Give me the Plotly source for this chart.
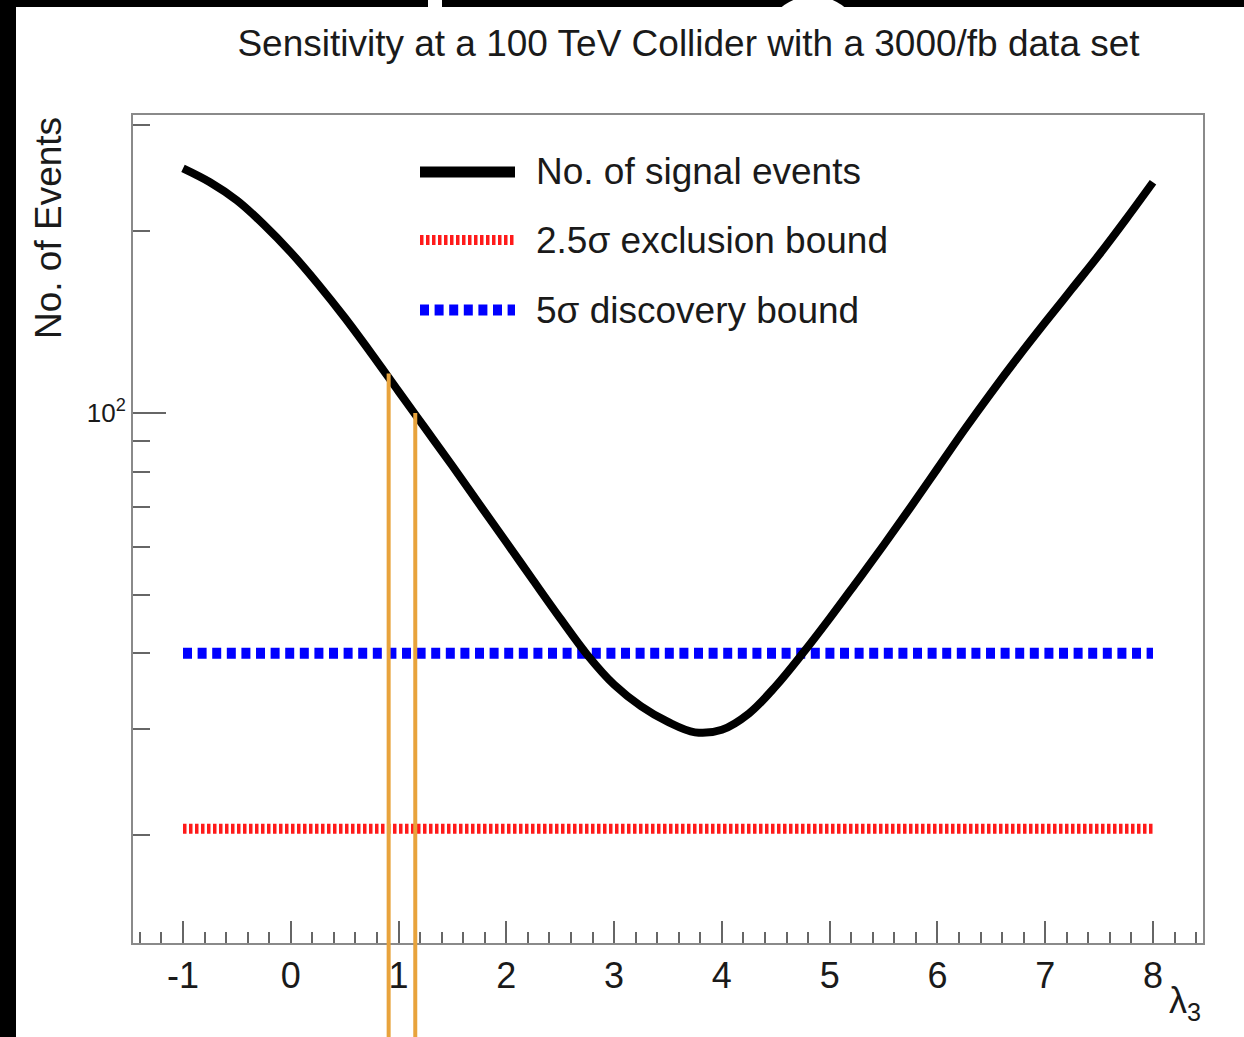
import numpy as np
import plotly.graph_objects as go

# ---------------- data ----------------
lambda3 = [-1.0, -0.75, -0.5, -0.25, 0.0, 0.25, 0.5, 0.75, 1.0, 1.25, 1.5, 1.75, 2.0, 2.25, 2.5, 2.75,
           3.0, 3.25, 3.5, 3.75, 4.0, 4.25, 4.5, 4.75, 5.0, 5.25, 5.5, 5.75, 6.0, 6.25, 6.5,
           6.75, 7.0, 7.25, 7.5, 7.75, 8.0]
signal_events = [254.1, 241.0, 224.9, 205.1, 184.5, 163.7, 143.9, 125.3, 108.6, 94.2, 81.7, 70.6,
                 61.1, 52.8, 45.7, 39.8, 35.5, 32.7, 30.8, 29.6, 29.9, 31.8, 35.3, 40.0, 45.7,
                 52.5, 60.4, 69.8, 80.9, 93.8, 108.1, 123.9, 141.3, 160.7, 182.8, 209.4, 241.0]
bound_x = [-1.0, 8.0]
exclusion_bound = [20.5, 20.5]   # 2.5 sigma
discovery_bound = [40.0, 40.0]   # 5 sigma
marker_x = [0.908, 1.155]        # orange vertical marks
marker_top = [116.3, 100.0]

x_major = [-1, 0, 1, 2, 3, 4, 5, 6, 7, 8]
x_major_text = ["-1", "0", "1", "2", "3", "4", "5", "6", "7", "8"]
x_minor = [round(-1.4 + 0.2 * i, 1) for i in range(50) if abs(round(-1.4 + 0.2 * i, 1) - round(-1.4 + 0.2 * i)) > 1e-6]
y_major = [100]
y_major_text = ["10<sup>2</sup>"]
y_minor = [20, 30, 40, 50, 60, 70, 80, 90, 200, 300]

legend_names = ["No. of signal events", "2.5σ exclusion bound", "5σ discovery bound"]

# ---------------- layout constants ----------------
W, H = 1244, 1037
L, R, T, B = 133, 41, 115, 94
XR = [-1.464, 8.464]
YR = [1.1225, 2.4934]
FONT = "Liberation Sans, Arial, Helvetica, sans-serif"
TXT = "#1a1a1a"
AX = "#8a8a8a"

pw, ph = W - L - R, H - T - B

def px_x(p):  # pixel -> paper x
    return (p - L) / pw

def px_y(p):  # pixel -> paper y
    return (H - B - p) / ph

def dx(v):
    return (v - XR[0]) / (XR[1] - XR[0])

def dy(v):
    return (np.log10(v) - YR[0]) / (YR[1] - YR[0])

fig = go.Figure()
fig.add_trace(go.Scatter(x=bound_x, y=exclusion_bound, mode="lines",
                         line=dict(color="#ff1a1a", width=10, dash="3.5px,2.5px"), name=legend_names[1]))
fig.add_trace(go.Scatter(x=bound_x, y=discovery_bound, mode="lines",
                         line=dict(color="#0000ff", width=11, dash="9px,5.6px"), name=legend_names[2]))
fig.add_trace(go.Scatter(x=lambda3, y=signal_events, mode="lines",
                         line=dict(color="black", width=8, shape="spline", smoothing=1.0), name=legend_names[0]))

shapes = []
# frame decorations (black border around the screenshot)
shapes.append(dict(type="rect", xref="paper", yref="paper", x0=px_x(-5), x1=px_x(W + 5), y0=px_y(7), y1=px_y(-5),
                   fillcolor="black", line=dict(width=0), layer="below"))
shapes.append(dict(type="rect", xref="paper", yref="paper", x0=px_x(-5), x1=px_x(16), y0=px_y(H + 5), y1=px_y(-5),
                   fillcolor="black", line=dict(width=0), layer="below"))
shapes.append(dict(type="rect", xref="paper", yref="paper", x0=px_x(428), x1=px_x(442), y0=px_y(8), y1=px_y(-5),
                   fillcolor="white", line=dict(width=0), layer="below"))
shapes.append(dict(type="circle", xref="paper", yref="paper", x0=px_x(763), x1=px_x(863), y0=px_y(96), y1=px_y(-4),
                   fillcolor="white", line=dict(width=0), layer="below"))

# orange vertical marks
for xv, topv in zip(marker_x, marker_top):
    shapes.append(dict(type="line", xref="paper", yref="paper", x0=dx(xv), x1=dx(xv), y0=px_y(H + 20), y1=dy(topv),
                       line=dict(color="#E8A33C", width=4), layer="above"))

# custom legend samples
leg_y = [172, 240, 310]
leg_styles = [dict(color="black", width=11),
              dict(color="#ff1a1a", width=10, dash="3.5px,2.5px"),
              dict(color="#0000ff", width=11, dash="9px,5.6px")]
for yy, st in zip(leg_y, leg_styles):
    shapes.append(dict(type="line", xref="paper", yref="paper", x0=px_x(420), x1=px_x(515), y0=px_y(yy), y1=px_y(yy),
                       line=st, layer="above"))

annotations = []
for yy, name in zip(leg_y, legend_names):
    annotations.append(dict(xref="paper", yref="paper", x=px_x(534), y=px_y(yy), text=name, showarrow=False,
                            xanchor="left", yanchor="middle", font=dict(family=FONT, size=37, color=TXT)))
annotations.append(dict(xref="paper", yref="paper", x=px_x(48), y=1.0, text="No. of Events", textangle=-90,
                        showarrow=False, xanchor="center", yanchor="top", font=dict(family=FONT, size=37, color=TXT)))
annotations.append(dict(xref="paper", yref="paper", x=1.0, y=px_y(1003), text="λ<sub>3</sub>",
                        showarrow=False, xanchor="right", yanchor="middle", font=dict(family=FONT, size=36, color=TXT)))

fig.update_layout(
    width=W, height=H,
    margin=dict(l=L, r=R, t=T, b=B),
    paper_bgcolor="white", plot_bgcolor="white",
    showlegend=False,
    title=dict(text="Sensitivity at a 100 TeV Collider with a 3000/fb data set",
               x=px_x(688.5), xref="paper", xanchor="center",
               y=1 - 43 / H, yref="container", yanchor="middle",
               font=dict(family=FONT, size=37, color=TXT)),
    shapes=shapes, annotations=annotations,
    xaxis=dict(range=XR, tickmode="array", tickvals=x_major, ticktext=x_major_text,
               ticks="inside", ticklen=22, tickwidth=1.5, tickcolor="#666",
               minor=dict(tickmode="array", tickvals=x_minor, ticks="inside", ticklen=11, tickwidth=1.5, tickcolor="#666"),
               showline=True, linecolor=AX, linewidth=2, mirror=True,
               showgrid=False, zeroline=False,
               tickfont=dict(family=FONT, size=36, color=TXT)),
    yaxis=dict(type="log", range=YR, tickmode="array", tickvals=y_major, ticktext=y_major_text,
               ticks="inside", ticklen=33, tickwidth=1.5, tickcolor="#666",
               minor=dict(tickmode="array", tickvals=y_minor, ticks="inside", ticklen=17, tickwidth=1.5, tickcolor="#666"),
               showline=True, linecolor=AX, linewidth=2, mirror=True,
               showgrid=False, zeroline=False,
               tickfont=dict(family=FONT, size=26, color=TXT)),
)

fig.write_html("out.html")
